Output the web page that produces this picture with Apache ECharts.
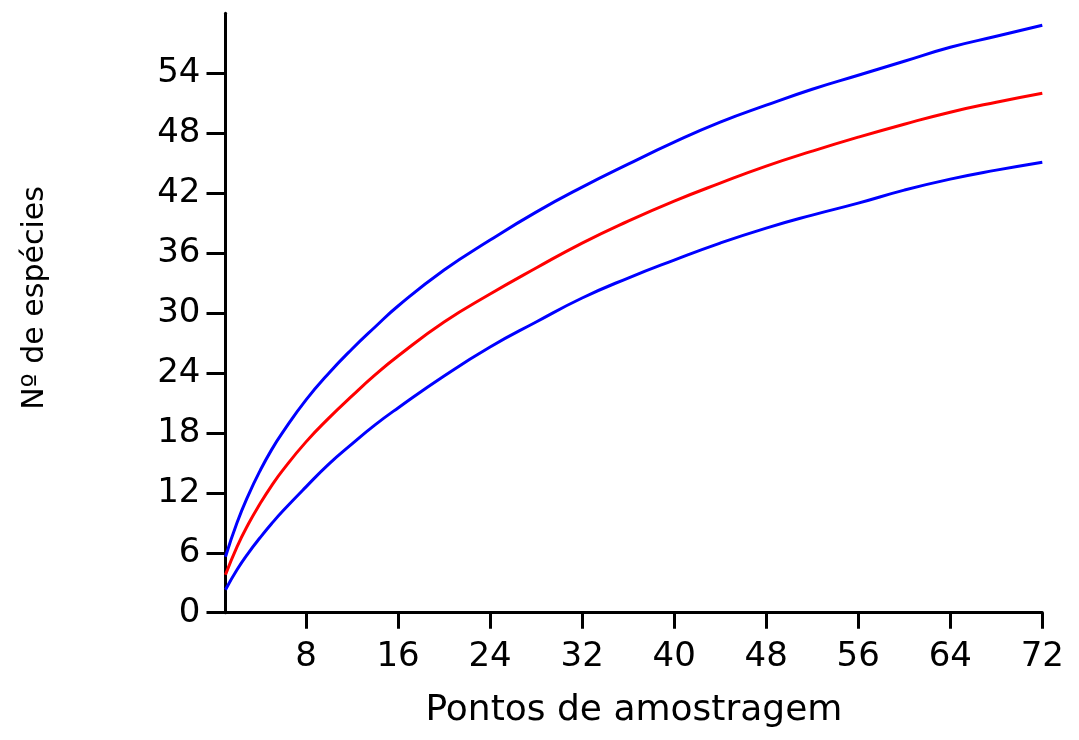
<!DOCTYPE html>
<html>
<head>
<meta charset="utf-8">
<script src="https://cdn.jsdelivr.net/npm/echarts@6/dist/echarts.min.js"></script>
<style>
html,body{margin:0;padding:0;background:#fff;}
#chart{width:1079px;height:740px;}
</style>
</head>
<body>
<div id="chart"></div>
<script>
const samplePoints = [1,2,3,4,5,6,8,10,12,14,16,20,24,28,32,36,40,44,48,52,56,60,64,68,72];
const upperBound = [5.6,9.0,11.8,14.2,16.3,18.1,21.3,24.0,26.4,28.6,30.7,34.3,37.3,40.1,42.6,44.9,47.1,49.1,50.8,52.4,53.8,55.2,56.6,57.7,58.8];
const meanSpecies = [3.8,6.6,8.9,10.9,12.7,14.3,17.1,19.5,21.7,23.8,25.7,29.1,31.9,34.5,37.0,39.2,41.2,43.0,44.7,46.2,47.6,48.9,50.1,51.1,52.0];
const lowerBound = [2.3,4.3,6.0,7.5,8.9,10.2,12.6,14.9,16.9,18.8,20.5,23.7,26.6,29.1,31.5,33.5,35.3,37.0,38.5,39.8,41.0,42.3,43.4,44.3,45.1];
const xTickValues = [8,16,24,32,40,48,56,64,72];
const yTickValues = [0,6,12,18,24,30,36,42,48,54];
const xTitle = 'Pontos de amostragem';
const yTitle = 'Nº de espécies';

const pair = (ys) => samplePoints.map((x, i) => [x, ys[i]]);
const font = 'DejaVu Sans';
const chart = echarts.init(document.getElementById('chart'));
chart.setOption({
  animation: false,
  backgroundColor: '#fff',
  grid: { left: 225.5, right: 36.7, top: 13.3, bottom: 127.3, containLabel: false },
  xAxis: {
    type: 'value', min: 1, max: 72,
    name: xTitle, nameLocation: 'middle', nameGap: 80,
    nameTextStyle: { fontFamily: font, fontSize: 36, color: '#000' },
    axisLine: { show: true, lineStyle: { color: '#000', width: 3 } },
    axisTick: { show: true, length: 16, lineStyle: { color: '#000', width: 3 }, customValues: xTickValues },
    axisLabel: { fontFamily: font, fontSize: 34, color: '#000', margin: 27, customValues: xTickValues },
    splitLine: { show: false }
  },
  yAxis: {
    type: 'value', min: 0, max: 60,
    axisLine: { show: true, lineStyle: { color: '#000', width: 3 } },
    axisTick: { show: true, length: 19, lineStyle: { color: '#000', width: 3 }, customValues: yTickValues },
    axisLabel: { fontFamily: font, fontSize: 34, color: '#000', margin: 25, customValues: yTickValues },
    splitLine: { show: false }
  },
  graphic: [{
    type: 'text', x: 35, y: 298, rotation: Math.PI / 2,
    style: { text: yTitle, fontFamily: font, fontSize: 30, fill: '#000', textAlign: 'center', textVerticalAlign: 'middle' }
  }],
  series: [
    { type: 'line', data: pair(upperBound), smooth: true, symbol: 'none', lineStyle: { color: '#0000ff', width: 3 } },
    { type: 'line', data: pair(meanSpecies), smooth: true, symbol: 'none', lineStyle: { color: '#ff0000', width: 3 } },
    { type: 'line', data: pair(lowerBound), smooth: true, symbol: 'none', lineStyle: { color: '#0000ff', width: 3 } }
  ]
});
</script>
</body>
</html>
